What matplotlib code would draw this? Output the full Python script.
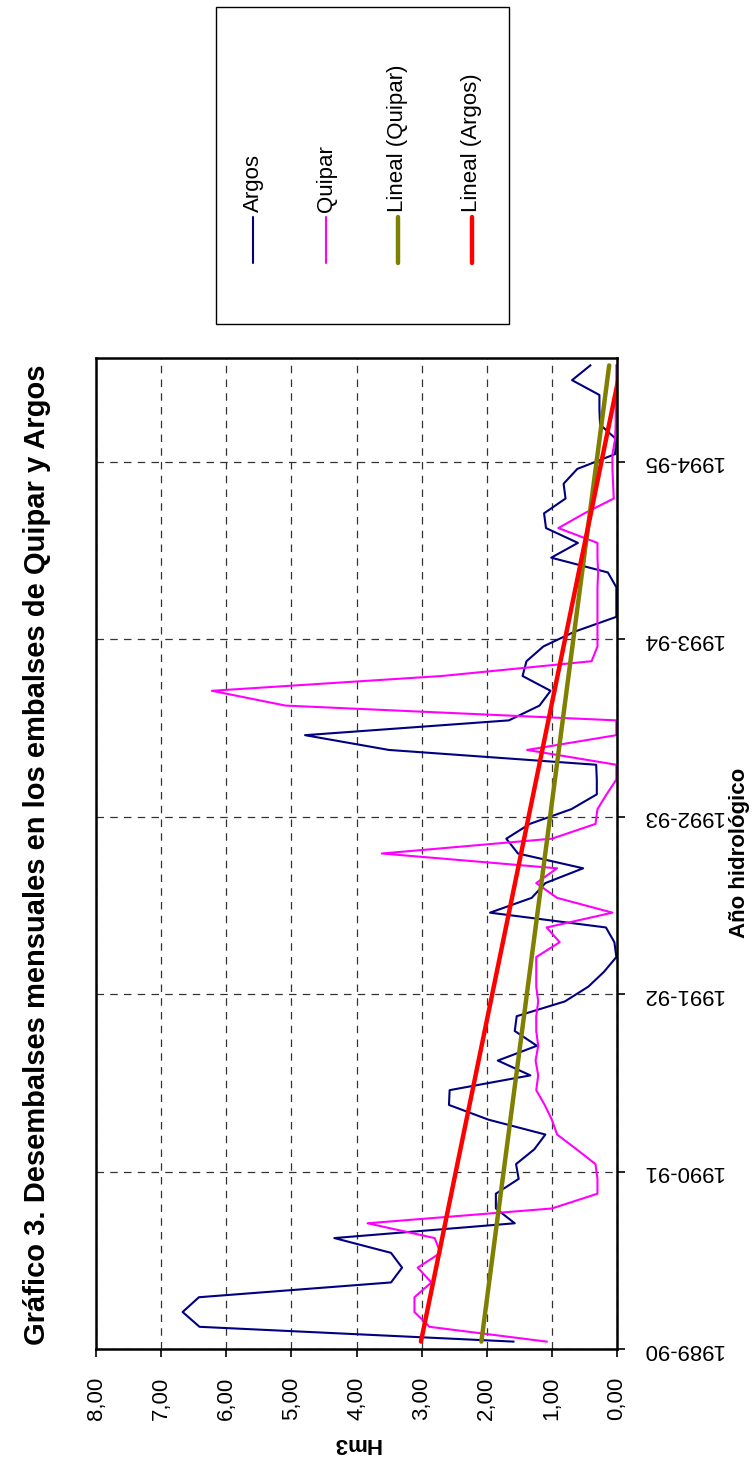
import numpy as np
import matplotlib
matplotlib.use("Agg")
import matplotlib.pyplot as plt
from matplotlib.lines import Line2D
from matplotlib.patches import Rectangle

plt.rcParams["font.family"] = ["Liberation Sans", "DejaVu Sans"]

# Monthly releases (Hm3), Oct 1989 .. Apr 1995
argos = [1.59, 6.41, 6.67, 6.42, 3.47, 3.30, 3.47, 4.34, 1.57, 1.86, 1.86, 1.51,
         1.55, 1.27, 1.10, 1.97, 2.58, 2.57, 1.33, 1.83, 1.23, 1.57, 1.54, 0.80,
         0.44, 0.20, 0.01, 0.04, 0.17, 1.95, 1.31, 1.10, 0.52, 1.52, 1.70, 1.34,
         0.70, 0.31, 0.31, 0.32, 3.50, 4.79, 1.66, 1.19, 1.02, 1.45, 1.39, 1.13,
         0.65, 0.01, 0.01, 0.01, 0.14, 1.01, 0.60, 1.09, 1.12, 0.79, 0.82, 0.61,
         0.03, 0.01, 0.26, 0.27, 0.27, 0.69, 0.41]
quipar = [1.08, 2.88, 3.11, 3.11, 2.85, 3.06, 2.71, 2.80, 3.83, 1.00, 0.30, 0.30,
          0.33, 0.62, 0.92, 1.00, 1.11, 1.24, 1.21, 1.25, 1.21, 1.24, 1.24, 1.21,
          1.24, 1.24, 1.24, 0.88, 1.08, 0.07, 0.92, 1.24, 0.92, 3.61, 1.00, 0.33,
          0.30, 0.16, 0.01, 0.01, 1.38, 0.01, 0.01, 5.09, 6.22, 2.69, 0.39, 0.30,
          0.30, 0.30, 0.30, 0.30, 0.29, 0.30, 0.30, 0.90, 0.50, 0.05, 0.06, 0.07,
          0.07, 0.03, 0.02, 0.02, 0.01, 0.01, 0.01]
year_labels = ["1989-90", "1990-91", "1991-92", "1992-93", "1993-94", "1994-95"]
value_ticks = [0, 1, 2, 3, 4, 5, 6, 7, 8]

W, H = 753, 1457


def fx(x):
    return x / W


def fy(y):
    return 1 - y / H


n = len(argos)
month_pos = np.arange(n) + 0.5
month_num = np.arange(1, n + 1)

# linear trend lines, like Excel "Lineal"
fit_argos = np.polyval(np.polyfit(month_num, argos, 1), month_num)
fit_quipar = np.polyval(np.polyfit(month_num, quipar, 1), month_num)

fig = plt.figure(figsize=(W / 100, H / 100), dpi=100)
ax = fig.add_axes([fx(96), fy(1349), (617 - 96) / W, (1349 - 358) / H])

ax.plot(argos, month_pos, color="#000080", lw=1.5)
ax.plot(quipar, month_pos, color="#FF00FF", lw=1.5)
ax.plot(fit_quipar, month_pos, color="#808000", lw=3.2, solid_capstyle="round")
ax.plot(fit_argos, month_pos, color="#FF0000", lw=3.2, solid_capstyle="round")

ax.set_xlim(8, 0)
ax.set_ylim(0, n)

ax.set_xticks(value_ticks)
ax.set_xticklabels([f"{v:.2f}".replace(".", ",") for v in value_ticks],
                   rotation=90, fontsize=16)
ax.yaxis.tick_right()
ax.set_yticks(np.arange(len(year_labels)) * 12)
ax.set_yticklabels(year_labels, rotation=180, fontsize=16, va="center")
ax.tick_params(direction="out", length=6, width=1.2, color="black")
ax.tick_params(axis="x", pad=14)
ax.tick_params(axis="y", pad=12)

ax.grid(True, color="#333333", lw=0.9, ls=(0, (6, 5)))
for s in ax.spines.values():
    s.set_linewidth(1.8)
    s.set_color("black")

fig.text(fx(37), fy(855), "Gráfico 3. Desembalses mensuales en los embalses de Quipar y Argos",
         rotation=90, fontsize=21, fontweight="bold", ha="center", va="center")
fig.text(fx(740), fy(853), "Año hidrológico", rotation=90, fontsize=16,
         fontweight="bold", ha="center", va="center")
fig.text(fx(356), fy(1443), "Hm3", rotation=180, fontsize=16,
         fontweight="bold", ha="center", va="center")

# legend box (drawn rotated like the rest of the chart)
fig.patches.append(Rectangle((fx(216), fy(324)), (509 - 216) / W, (324 - 7) / H,
                             transform=fig.transFigure, fill=False,
                             edgecolor="black", lw=1.0))
legend_items = [("Argos", "#000080", 1.5, 253),
                ("Quipar", "#FF00FF", 1.5, 326),
                ("Lineal (Quipar)", "#808000", 3.2, 398),
                ("Lineal (Argos)", "#FF0000", 3.2, 472)]
for label, color, lw, x in legend_items:
    fig.lines.append(Line2D([fx(x), fx(x)], [fy(263), fy(217)],
                            transform=fig.transFigure, color=color, lw=lw,
                            solid_capstyle="round"))
    fig.text(fx(x), fy(212), label, rotation=90, fontsize=16,
             ha="center", va="bottom")

fig.savefig("out.png", dpi=100)
